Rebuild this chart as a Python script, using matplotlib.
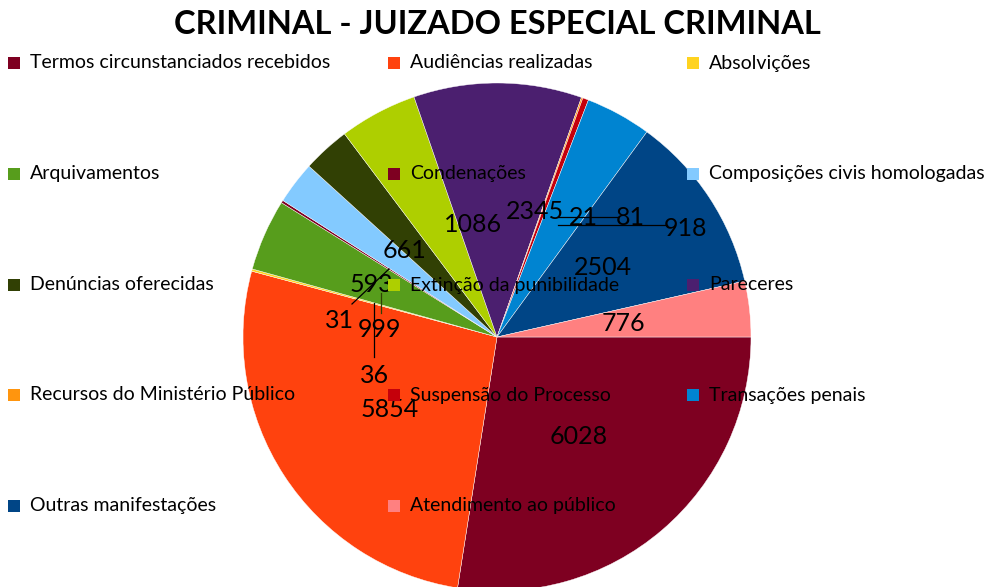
import matplotlib.pyplot as plt
from matplotlib.patches import Rectangle

plt.rcParams['font.family'] = ['Lato', 'DejaVu Sans']

categories = ['Termos circunstanciados recebidos', 'Audiências realizadas', 'Absolvições',
              'Arquivamentos', 'Condenações', 'Composições civis homologadas',
              'Denúncias oferecidas', 'Extinção da punibilidade', 'Pareceres',
              'Recursos do Ministério Público', 'Suspensão do Processo', 'Transações penais',
              'Outras manifestações', 'Atendimento ao público']
values = [6028, 5854, 31, 999, 36, 593, 661, 1086, 2345, 21, 81, 918, 2504, 776]
colors = ['#7E0021', '#FF420E', '#FFD320', '#579D1C', '#7E0021', '#83CAFF', '#314004',
          '#AECF00', '#4B1F6F', '#FF950E', '#C5000B', '#0084D1', '#004586', '#FF8080']

# label positions (pie units, radius 1)
label_pos = [(0.323, -0.390), (-0.421, -0.287), (-0.622, 0.063), (-0.461, 0.028),
             (-0.484, -0.150), (-0.496, 0.205), (-0.366, 0.339), (-0.094, 0.441),
             (0.150, 0.496), (0.339, 0.469), (0.524, 0.469), (0.744, 0.429),
             (0.417, 0.272), (0.496, 0.055)]

W, H = 988, 587
fig = plt.figure(figsize=(W / 100, H / 100), dpi=100)

cx, cy, r = 497, 337, 254
ax = fig.add_axes([(cx - r) / W, (H - cy - r) / H, 2 * r / W, 2 * r / H])
ax.pie(values, colors=colors, startangle=0, counterclock=False, radius=1,
       wedgeprops=dict(edgecolor='white', linewidth=0.3))
ax.set_xlim(-1, 1)
ax.set_ylim(-1, 1)
ax.set_aspect('equal')
ax.axis('off')

def px(x, y):
    return ((x - cx) / r, (cy - y) / r)

# leader lines
for (x0, y0), (x1, y1), c in [((352, 304), (389, 269), 'black'),
                              ((374, 303), (374, 357), 'black'),
                              ((381, 293), (381, 313), '#314004'),
                              ((558, 217), (617, 217), 'black'),
                              ((558, 225), (667, 225), 'black')]:
    a, b = px(x0, y0)
    c2, d = px(x1, y1)
    ax.plot([a, c2], [b, d], color=c, lw=0.9, zorder=3)

for v, (lx, ly) in zip(values, label_pos):
    ax.text(lx, ly, str(v), fontsize=18, ha='center', va='center', zorder=4)

fig.text(0.503, 1 - 24 / H, 'CRIMINAL - JUIZADO ESPECIAL CRIMINAL', ha='center', va='center',
         fontsize=23.5, fontweight='bold')

# legend, 3 columns x 5 rows
col_x = [8, 388, 687]
row_y = [63, 174, 285, 395, 506]
for i, (name, c) in enumerate(zip(categories, colors)):
    row, col = divmod(i, 3)
    x, y = col_x[col], row_y[row]
    fig.patches.append(Rectangle((x / W, (H - y - 6) / H), 12 / W, 12 / H,
                                 transform=fig.transFigure, facecolor=c, edgecolor='none',
                                 zorder=5))
    fig.text((x + 22) / W, (H - y) / H, name, fontsize=14, ha='left', va='center', zorder=6)

fig.savefig('out.png', dpi=100)
